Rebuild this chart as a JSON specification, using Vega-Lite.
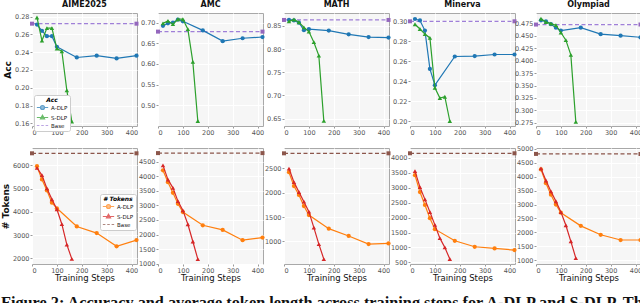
{
"$schema":"https://vega.github.io/schema/vega-lite/v6.json",
"padding":{"left":0,"top":0,"right":0,"bottom":0},
"bounds":"flush",
"columns":5,
"spacing":{"row":22,"column":21},
"resolve":{"scale":{"color":"independent","fill":"independent","shape":"independent"},"legend":{"color":"independent","fill":"independent","shape":"independent"}},
"title":{"text":"Figure 2: Accuracy and average token length across training steps for A-DLP and S-DLP. The","orient":"bottom","anchor":"start","font":"Liberation Serif","fontSize":16.3,"fontWeight":"bold","color":"#111","offset":12},
"datasets":{
"acc":[
{"b":"AIME2025","m":"A-DLP","s":20,"v":0.271},{"b":"AIME2025","m":"A-DLP","s":40,"v":0.264},{"b":"AIME2025","m":"A-DLP","s":60,"v":0.258},{"b":"AIME2025","m":"A-DLP","s":80,"v":0.258},{"b":"AIME2025","m":"A-DLP","s":100,"v":0.246},{"b":"AIME2025","m":"A-DLP","s":180,"v":0.234},{"b":"AIME2025","m":"A-DLP","s":260,"v":0.236},{"b":"AIME2025","m":"A-DLP","s":340,"v":0.233},{"b":"AIME2025","m":"A-DLP","s":420,"v":0.236},
{"b":"AIME2025","m":"S-DLP","s":20,"v":0.279},{"b":"AIME2025","m":"S-DLP","s":40,"v":0.253},{"b":"AIME2025","m":"S-DLP","s":60,"v":0.267},{"b":"AIME2025","m":"S-DLP","s":80,"v":0.267},{"b":"AIME2025","m":"S-DLP","s":100,"v":0.244},{"b":"AIME2025","m":"S-DLP","s":120,"v":0.241},{"b":"AIME2025","m":"S-DLP","s":140,"v":0.197},{"b":"AIME2025","m":"S-DLP","s":160,"v":0.162},
{"b":"AIME2025","m":"Base","s":0,"v":0.272},{"b":"AIME2025","m":"Base","s":420,"v":0.272},
{"b":"AMC","m":"A-DLP","s":20,"v":0.692},{"b":"AMC","m":"A-DLP","s":40,"v":0.698},{"b":"AMC","m":"A-DLP","s":60,"v":0.700},{"b":"AMC","m":"A-DLP","s":80,"v":0.707},{"b":"AMC","m":"A-DLP","s":100,"v":0.703},{"b":"AMC","m":"A-DLP","s":180,"v":0.681},{"b":"AMC","m":"A-DLP","s":260,"v":0.655},{"b":"AMC","m":"A-DLP","s":340,"v":0.662},{"b":"AMC","m":"A-DLP","s":420,"v":0.665},
{"b":"AMC","m":"S-DLP","s":20,"v":0.698},{"b":"AMC","m":"S-DLP","s":40,"v":0.704},{"b":"AMC","m":"S-DLP","s":60,"v":0.696},{"b":"AMC","m":"S-DLP","s":80,"v":0.708},{"b":"AMC","m":"S-DLP","s":100,"v":0.708},{"b":"AMC","m":"S-DLP","s":120,"v":0.684},{"b":"AMC","m":"S-DLP","s":140,"v":0.605},{"b":"AMC","m":"S-DLP","s":160,"v":0.462},
{"b":"AMC","m":"Base","s":0,"v":0.678},{"b":"AMC","m":"Base","s":420,"v":0.678},
{"b":"MATH","m":"A-DLP","s":20,"v":0.863},{"b":"MATH","m":"A-DLP","s":40,"v":0.862},{"b":"MATH","m":"A-DLP","s":60,"v":0.857},{"b":"MATH","m":"A-DLP","s":80,"v":0.841},{"b":"MATH","m":"A-DLP","s":100,"v":0.843},{"b":"MATH","m":"A-DLP","s":180,"v":0.840},{"b":"MATH","m":"A-DLP","s":260,"v":0.832},{"b":"MATH","m":"A-DLP","s":340,"v":0.826},{"b":"MATH","m":"A-DLP","s":420,"v":0.825},
{"b":"MATH","m":"S-DLP","s":20,"v":0.860},{"b":"MATH","m":"S-DLP","s":40,"v":0.864},{"b":"MATH","m":"S-DLP","s":60,"v":0.858},{"b":"MATH","m":"S-DLP","s":80,"v":0.847},{"b":"MATH","m":"S-DLP","s":100,"v":0.838},{"b":"MATH","m":"S-DLP","s":120,"v":0.815},{"b":"MATH","m":"S-DLP","s":140,"v":0.786},{"b":"MATH","m":"S-DLP","s":160,"v":0.645},
{"b":"MATH","m":"Base","s":0,"v":0.863},{"b":"MATH","m":"Base","s":420,"v":0.863},
{"b":"Minerva","m":"A-DLP","s":20,"v":0.302},{"b":"Minerva","m":"A-DLP","s":40,"v":0.3006},{"b":"Minerva","m":"A-DLP","s":60,"v":0.2904},{"b":"Minerva","m":"A-DLP","s":80,"v":0.2521},{"b":"Minerva","m":"A-DLP","s":100,"v":0.2358},{"b":"Minerva","m":"A-DLP","s":180,"v":0.2645},{"b":"Minerva","m":"A-DLP","s":260,"v":0.2649},{"b":"Minerva","m":"A-DLP","s":340,"v":0.2665},{"b":"Minerva","m":"A-DLP","s":420,"v":0.2665},
{"b":"Minerva","m":"S-DLP","s":20,"v":0.2968},{"b":"Minerva","m":"S-DLP","s":40,"v":0.292},{"b":"Minerva","m":"S-DLP","s":60,"v":0.2869},{"b":"Minerva","m":"S-DLP","s":80,"v":0.2831},{"b":"Minerva","m":"S-DLP","s":100,"v":0.2332},{"b":"Minerva","m":"S-DLP","s":120,"v":0.223},{"b":"Minerva","m":"S-DLP","s":140,"v":0.2243},{"b":"Minerva","m":"S-DLP","s":160,"v":0.200},
{"b":"Minerva","m":"Base","s":0,"v":0.2997},{"b":"Minerva","m":"Base","s":420,"v":0.2997},
{"b":"Olympiad","m":"A-DLP","s":20,"v":0.4815},{"b":"Olympiad","m":"A-DLP","s":40,"v":0.4795},{"b":"Olympiad","m":"A-DLP","s":60,"v":0.4737},{"b":"Olympiad","m":"A-DLP","s":80,"v":0.4666},{"b":"Olympiad","m":"A-DLP","s":100,"v":0.4608},{"b":"Olympiad","m":"A-DLP","s":180,"v":0.4666},{"b":"Olympiad","m":"A-DLP","s":260,"v":0.4537},{"b":"Olympiad","m":"A-DLP","s":340,"v":0.4505},{"b":"Olympiad","m":"A-DLP","s":420,"v":0.4473},
{"b":"Olympiad","m":"S-DLP","s":20,"v":0.4847},{"b":"Olympiad","m":"S-DLP","s":40,"v":0.4782},{"b":"Olympiad","m":"S-DLP","s":60,"v":0.475},{"b":"Olympiad","m":"S-DLP","s":80,"v":0.4718},{"b":"Olympiad","m":"S-DLP","s":100,"v":0.457},{"b":"Olympiad","m":"S-DLP","s":120,"v":0.4415},{"b":"Olympiad","m":"S-DLP","s":140,"v":0.4118},{"b":"Olympiad","m":"S-DLP","s":160,"v":0.2769},
{"b":"Olympiad","m":"Base","s":0,"v":0.473},{"b":"Olympiad","m":"Base","s":420,"v":0.473}
],
"tok":[
{"b":"AIME2025","m":"A-DLP","s":20,"v":5957},{"b":"AIME2025","m":"A-DLP","s":40,"v":5388},{"b":"AIME2025","m":"A-DLP","s":60,"v":4919},{"b":"AIME2025","m":"A-DLP","s":80,"v":4393},{"b":"AIME2025","m":"A-DLP","s":100,"v":4151},{"b":"AIME2025","m":"A-DLP","s":180,"v":3370},{"b":"AIME2025","m":"A-DLP","s":260,"v":3085},{"b":"AIME2025","m":"A-DLP","s":340,"v":2516},{"b":"AIME2025","m":"A-DLP","s":420,"v":2786},
{"b":"AIME2025","m":"S-DLP","s":20,"v":5886},{"b":"AIME2025","m":"S-DLP","s":40,"v":5573},{"b":"AIME2025","m":"S-DLP","s":60,"v":5004},{"b":"AIME2025","m":"S-DLP","s":80,"v":4535},{"b":"AIME2025","m":"S-DLP","s":100,"v":4108},{"b":"AIME2025","m":"S-DLP","s":120,"v":3468},{"b":"AIME2025","m":"S-DLP","s":140,"v":2589},{"b":"AIME2025","m":"S-DLP","s":160,"v":1976},
{"b":"AIME2025","m":"Base","s":0,"v":6512},{"b":"AIME2025","m":"Base","s":420,"v":6512},
{"b":"AMC","m":"A-DLP","s":20,"v":4205},{"b":"AMC","m":"A-DLP","s":40,"v":3795},{"b":"AMC","m":"A-DLP","s":60,"v":3432},{"b":"AMC","m":"A-DLP","s":80,"v":3057},{"b":"AMC","m":"A-DLP","s":100,"v":2773},{"b":"AMC","m":"A-DLP","s":180,"v":2318},{"b":"AMC","m":"A-DLP","s":260,"v":2159},{"b":"AMC","m":"A-DLP","s":340,"v":1807},{"b":"AMC","m":"A-DLP","s":420,"v":1898},
{"b":"AMC","m":"S-DLP","s":20,"v":4375},{"b":"AMC","m":"S-DLP","s":40,"v":3886},{"b":"AMC","m":"S-DLP","s":60,"v":3602},{"b":"AMC","m":"S-DLP","s":80,"v":3148},{"b":"AMC","m":"S-DLP","s":100,"v":2830},{"b":"AMC","m":"S-DLP","s":120,"v":2352},{"b":"AMC","m":"S-DLP","s":140,"v":1761},{"b":"AMC","m":"S-DLP","s":160,"v":1159},
{"b":"AMC","m":"Base","s":0,"v":4795},{"b":"AMC","m":"Base","s":420,"v":4795},
{"b":"MATH","m":"A-DLP","s":20,"v":2419},{"b":"MATH","m":"A-DLP","s":40,"v":2134},{"b":"MATH","m":"A-DLP","s":60,"v":1952},{"b":"MATH","m":"A-DLP","s":80,"v":1726},{"b":"MATH","m":"A-DLP","s":100,"v":1541},{"b":"MATH","m":"A-DLP","s":180,"v":1263},{"b":"MATH","m":"A-DLP","s":260,"v":1113},{"b":"MATH","m":"A-DLP","s":340,"v":946},{"b":"MATH","m":"A-DLP","s":420,"v":960},
{"b":"MATH","m":"S-DLP","s":20,"v":2493},{"b":"MATH","m":"S-DLP","s":40,"v":2215},{"b":"MATH","m":"S-DLP","s":60,"v":2012},{"b":"MATH","m":"S-DLP","s":80,"v":1815},{"b":"MATH","m":"S-DLP","s":100,"v":1611},{"b":"MATH","m":"S-DLP","s":120,"v":1285},{"b":"MATH","m":"S-DLP","s":140,"v":946},{"b":"MATH","m":"S-DLP","s":160,"v":640},
{"b":"MATH","m":"Base","s":0,"v":2805},{"b":"MATH","m":"Base","s":420,"v":2805},
{"b":"Minerva","m":"A-DLP","s":20,"v":3422},{"b":"Minerva","m":"A-DLP","s":40,"v":2856},{"b":"Minerva","m":"A-DLP","s":60,"v":2422},{"b":"Minerva","m":"A-DLP","s":80,"v":1978},{"b":"Minerva","m":"A-DLP","s":100,"v":1611},{"b":"Minerva","m":"A-DLP","s":180,"v":1222},{"b":"Minerva","m":"A-DLP","s":260,"v":1022},{"b":"Minerva","m":"A-DLP","s":340,"v":967},{"b":"Minerva","m":"A-DLP","s":420,"v":911},
{"b":"Minerva","m":"S-DLP","s":20,"v":3556},{"b":"Minerva","m":"S-DLP","s":40,"v":3022},{"b":"Minerva","m":"S-DLP","s":60,"v":2611},{"b":"Minerva","m":"S-DLP","s":80,"v":2189},{"b":"Minerva","m":"S-DLP","s":100,"v":1756},{"b":"Minerva","m":"S-DLP","s":120,"v":1311},{"b":"Minerva","m":"S-DLP","s":140,"v":1000},{"b":"Minerva","m":"S-DLP","s":160,"v":611},
{"b":"Minerva","m":"Base","s":0,"v":4156},{"b":"Minerva","m":"Base","s":420,"v":4156},
{"b":"Olympiad","m":"A-DLP","s":20,"v":4264},{"b":"Olympiad","m":"A-DLP","s":40,"v":3766},{"b":"Olympiad","m":"A-DLP","s":60,"v":3352},{"b":"Olympiad","m":"A-DLP","s":80,"v":3000},{"b":"Olympiad","m":"A-DLP","s":100,"v":2704},{"b":"Olympiad","m":"A-DLP","s":180,"v":2231},{"b":"Olympiad","m":"A-DLP","s":260,"v":1911},{"b":"Olympiad","m":"A-DLP","s":340,"v":1722},{"b":"Olympiad","m":"A-DLP","s":420,"v":1722},
{"b":"Olympiad","m":"S-DLP","s":20,"v":4300},{"b":"Olympiad","m":"S-DLP","s":40,"v":3864},{"b":"Olympiad","m":"S-DLP","s":60,"v":3473},{"b":"Olympiad","m":"S-DLP","s":80,"v":3118},{"b":"Olympiad","m":"S-DLP","s":100,"v":2728},{"b":"Olympiad","m":"S-DLP","s":120,"v":2254},{"b":"Olympiad","m":"S-DLP","s":140,"v":1675},{"b":"Olympiad","m":"S-DLP","s":160,"v":1071},
{"b":"Olympiad","m":"Base","s":0,"v":4822},{"b":"Olympiad","m":"Base","s":420,"v":4822}
]
},
"concat":[
{"width":105,"height":113,"title":"AIME2025","data":{"name":"acc"},"transform":[{"filter":"datum.b=='AIME2025'"}],
 "encoding":{"x":{"field":"s","type":"quantitative","scale":{"domain":[0,422],"nice":false},"axis":{"values":[0,100,200,300,400],"title":null}},
  "y":{"field":"v","type":"quantitative","scale":{"domain":[0.157,0.284],"nice":false,"zero":false},"axis":{"values":[0.16,0.18,0.2,0.22,0.24,0.26,0.28],"format":".2f","title":"Acc"}}},
 "layer":[
  {"transform":[{"filter":"datum.m=='Base'"}],"mark":{"type":"line","color":"#9f7fd8","strokeDash":[4,2.5],"strokeWidth":1.2,"point":{"shape":"square","filled":true,"size":16,"color":"#9467bd"}},"encoding":{}},
  {"transform":[{"filter":"datum.m=='A-DLP'"}],"mark":{"type":"line","color":"#1f77b4","strokeWidth":1.2,"point":{"filled":true,"size":18,"color":"#1f77b4"}},"encoding":{}},
  {"transform":[{"filter":"datum.m=='S-DLP'"}],"mark":{"type":"line","color":"#2ca02c","strokeWidth":1.2,"point":{"shape":"triangle-up","filled":true,"size":20,"color":"#2ca02c"}},"encoding":{}},
  {"transform":[{"filter":"false"}],"mark":{"type":"point","filled":false,"strokeWidth":1.2},
   "encoding":{
    "color":{"field":"m","type":"nominal","scale":{"domain":["A-DLP","S-DLP","Base"],"range":["#1f77b4","#2ca02c","#9f7fd8"]},"legend":{"title":"Acc","orient":"none","legendX":2,"legendY":82}},
    "fill":{"field":"m","type":"nominal","scale":{"domain":["A-DLP","S-DLP","Base"],"range":["#1f77b4","#2ca02c","transparent"]},"legend":{"title":"Acc","orient":"none","legendX":2,"legendY":82}},
    "shape":{"field":"m","type":"nominal","scale":{"domain":["A-DLP","S-DLP","Base"],"range":["M-2,0H-0.7M0.7,0H2M0.7,0A0.7,0.7 0 1,1 -0.7,0A0.7,0.7 0 1,1 0.7,0Z","M-2,0H2M0,-0.8L0.72,0.48L-0.72,0.48Z","M-2,0H-1.1M-0.45,0H0.45M1.1,0H2"]},"legend":{"title":"Acc","orient":"none","legendX":2,"legendY":82}}
   }}
 ]},
{"width":105,"height":113,"title":"AMC","data":{"name":"acc"},"transform":[{"filter":"datum.b=='AMC'"}],
 "encoding":{"x":{"field":"s","type":"quantitative","scale":{"domain":[0,422],"nice":false},"axis":{"values":[0,100,200,300,400],"title":null}},
  "y":{"field":"v","type":"quantitative","scale":{"domain":[0.45,0.723],"nice":false,"zero":false},"axis":{"values":[0.5,0.55,0.6,0.65,0.7],"format":".2f","title":null}}},
 "layer":[
  {"transform":[{"filter":"datum.m=='Base'"}],"mark":{"type":"line","color":"#9f7fd8","strokeDash":[4,2.5],"strokeWidth":1.2,"point":{"shape":"square","filled":true,"size":16,"color":"#9467bd"}},"encoding":{}},
  {"transform":[{"filter":"datum.m=='A-DLP'"}],"mark":{"type":"line","color":"#1f77b4","strokeWidth":1.2,"point":{"filled":true,"size":18,"color":"#1f77b4"}},"encoding":{}},
  {"transform":[{"filter":"datum.m=='S-DLP'"}],"mark":{"type":"line","color":"#2ca02c","strokeWidth":1.2,"point":{"shape":"triangle-up","filled":true,"size":20,"color":"#2ca02c"}},"encoding":{}}
 ]},
{"width":105,"height":113,"title":"MATH","data":{"name":"acc"},"transform":[{"filter":"datum.b=='MATH'"}],
 "encoding":{"x":{"field":"s","type":"quantitative","scale":{"domain":[0,422],"nice":false},"axis":{"values":[0,100,200,300,400],"title":null}},
  "y":{"field":"v","type":"quantitative","scale":{"domain":[0.634,0.878],"nice":false,"zero":false},"axis":{"values":[0.65,0.7,0.75,0.8,0.85],"format":".2f","title":null}}},
 "layer":[
  {"transform":[{"filter":"datum.m=='Base'"}],"mark":{"type":"line","color":"#9f7fd8","strokeDash":[4,2.5],"strokeWidth":1.2,"point":{"shape":"square","filled":true,"size":16,"color":"#9467bd"}},"encoding":{}},
  {"transform":[{"filter":"datum.m=='A-DLP'"}],"mark":{"type":"line","color":"#1f77b4","strokeWidth":1.2,"point":{"filled":true,"size":18,"color":"#1f77b4"}},"encoding":{}},
  {"transform":[{"filter":"datum.m=='S-DLP'"}],"mark":{"type":"line","color":"#2ca02c","strokeWidth":1.2,"point":{"shape":"triangle-up","filled":true,"size":20,"color":"#2ca02c"}},"encoding":{}}
 ]},
{"width":105,"height":113,"title":"Minerva","data":{"name":"acc"},"transform":[{"filter":"datum.b=='Minerva'"}],
 "encoding":{"x":{"field":"s","type":"quantitative","scale":{"domain":[0,422],"nice":false},"axis":{"values":[0,100,200,300,400],"title":null}},
  "y":{"field":"v","type":"quantitative","scale":{"domain":[0.195,0.308],"nice":false,"zero":false},"axis":{"values":[0.2,0.22,0.24,0.26,0.28,0.3],"format":".2f","title":null}}},
 "layer":[
  {"transform":[{"filter":"datum.m=='Base'"}],"mark":{"type":"line","color":"#9f7fd8","strokeDash":[4,2.5],"strokeWidth":1.2,"point":{"shape":"square","filled":true,"size":16,"color":"#9467bd"}},"encoding":{}},
  {"transform":[{"filter":"datum.m=='A-DLP'"}],"mark":{"type":"line","color":"#1f77b4","strokeWidth":1.2,"point":{"filled":true,"size":18,"color":"#1f77b4"}},"encoding":{}},
  {"transform":[{"filter":"datum.m=='S-DLP'"}],"mark":{"type":"line","color":"#2ca02c","strokeWidth":1.2,"point":{"shape":"triangle-up","filled":true,"size":20,"color":"#2ca02c"}},"encoding":{}}
 ]},
{"width":105,"height":113,"title":"Olympiad","data":{"name":"acc"},"transform":[{"filter":"datum.b=='Olympiad'"}],
 "encoding":{"x":{"field":"s","type":"quantitative","scale":{"domain":[0,422],"nice":false},"axis":{"values":[0,100,200,300,400],"title":null}},
  "y":{"field":"v","type":"quantitative","scale":{"domain":[0.2685,0.4963],"nice":false,"zero":false},"axis":{"values":[0.275,0.3,0.325,0.35,0.375,0.4,0.425,0.45,0.475],"format":".3f","title":null}}},
 "layer":[
  {"transform":[{"filter":"datum.m=='Base'"}],"mark":{"type":"line","color":"#9f7fd8","strokeDash":[4,2.5],"strokeWidth":1.2,"point":{"shape":"square","filled":true,"size":16,"color":"#9467bd"}},"encoding":{}},
  {"transform":[{"filter":"datum.m=='A-DLP'"}],"mark":{"type":"line","color":"#1f77b4","strokeWidth":1.2,"point":{"filled":true,"size":18,"color":"#1f77b4"}},"encoding":{}},
  {"transform":[{"filter":"datum.m=='S-DLP'"}],"mark":{"type":"line","color":"#2ca02c","strokeWidth":1.2,"point":{"shape":"triangle-up","filled":true,"size":20,"color":"#2ca02c"}},"encoding":{}}
 ]},
{"width":105,"height":116,"data":{"name":"tok"},"transform":[{"filter":"datum.b=='AIME2025'"}],
 "encoding":{"x":{"field":"s","type":"quantitative","scale":{"domain":[0,422],"nice":false},"axis":{"values":[0,100,200,300,400],"title":"Training Steps"}},
  "y":{"field":"v","type":"quantitative","scale":{"domain":[1758,6740],"nice":false,"zero":false},"axis":{"values":[2000,3000,4000,5000,6000],"format":"d","title":"# Tokens"}}},
 "layer":[
  {"transform":[{"filter":"datum.m=='Base'"}],"mark":{"type":"line","color":"#8c564b","strokeDash":[4,2.5],"strokeWidth":1.2,"point":{"shape":"square","filled":true,"size":16,"color":"#8c564b"}},"encoding":{}},
  {"transform":[{"filter":"datum.m=='A-DLP'"}],"mark":{"type":"line","color":"#ff7f0e","strokeWidth":1.2,"point":{"filled":true,"size":18,"color":"#ff7f0e"}},"encoding":{}},
  {"transform":[{"filter":"datum.m=='S-DLP'"}],"mark":{"type":"line","color":"#d62728","strokeWidth":1.2,"point":{"shape":"triangle-up","filled":true,"size":20,"color":"#d62728"}},"encoding":{}},
  {"transform":[{"filter":"false"}],"mark":{"type":"point","filled":false,"strokeWidth":1.2},
   "encoding":{
    "color":{"field":"m","type":"nominal","scale":{"domain":["A-DLP","S-DLP","Base"],"range":["#ff7f0e","#d62728","#8c564b"]},"legend":{"title":"# Tokens","orient":"none","legendX":68,"legendY":46}},
    "fill":{"field":"m","type":"nominal","scale":{"domain":["A-DLP","S-DLP","Base"],"range":["#ff7f0e","#d62728","transparent"]},"legend":{"title":"# Tokens","orient":"none","legendX":68,"legendY":46}},
    "shape":{"field":"m","type":"nominal","scale":{"domain":["A-DLP","S-DLP","Base"],"range":["M-2,0H-0.7M0.7,0H2M0.7,0A0.7,0.7 0 1,1 -0.7,0A0.7,0.7 0 1,1 0.7,0Z","M-2,0H2M0,-0.8L0.72,0.48L-0.72,0.48Z","M-2,0H-1.1M-0.45,0H0.45M1.1,0H2"]},"legend":{"title":"# Tokens","orient":"none","legendX":68,"legendY":46}}
   }}
 ]},
{"width":105,"height":116,"data":{"name":"tok"},"transform":[{"filter":"datum.b=='AMC'"}],
 "encoding":{"x":{"field":"s","type":"quantitative","scale":{"domain":[0,422],"nice":false},"axis":{"values":[0,100,200,300,400],"title":"Training Steps"}},
  "y":{"field":"v","type":"quantitative","scale":{"domain":[990,4970],"nice":false,"zero":false},"axis":{"values":[1000,1500,2000,2500,3000,3500,4000,4500],"format":"d","title":null}}},
 "layer":[
  {"transform":[{"filter":"datum.m=='Base'"}],"mark":{"type":"line","color":"#8c564b","strokeDash":[4,2.5],"strokeWidth":1.2,"point":{"shape":"square","filled":true,"size":16,"color":"#8c564b"}},"encoding":{}},
  {"transform":[{"filter":"datum.m=='A-DLP'"}],"mark":{"type":"line","color":"#ff7f0e","strokeWidth":1.2,"point":{"filled":true,"size":18,"color":"#ff7f0e"}},"encoding":{}},
  {"transform":[{"filter":"datum.m=='S-DLP'"}],"mark":{"type":"line","color":"#d62728","strokeWidth":1.2,"point":{"shape":"triangle-up","filled":true,"size":20,"color":"#d62728"}},"encoding":{}}
 ]},
{"width":105,"height":116,"data":{"name":"tok"},"transform":[{"filter":"datum.b=='MATH'"}],
 "encoding":{"x":{"field":"s","type":"quantitative","scale":{"domain":[0,422],"nice":false},"axis":{"values":[0,100,200,300,400],"title":"Training Steps"}},
  "y":{"field":"v","type":"quantitative","scale":{"domain":[539,2914],"nice":false,"zero":false},"axis":{"values":[1000,1500,2000,2500],"format":"d","title":null}}},
 "layer":[
  {"transform":[{"filter":"datum.m=='Base'"}],"mark":{"type":"line","color":"#8c564b","strokeDash":[4,2.5],"strokeWidth":1.2,"point":{"shape":"square","filled":true,"size":16,"color":"#8c564b"}},"encoding":{}},
  {"transform":[{"filter":"datum.m=='A-DLP'"}],"mark":{"type":"line","color":"#ff7f0e","strokeWidth":1.2,"point":{"filled":true,"size":18,"color":"#ff7f0e"}},"encoding":{}},
  {"transform":[{"filter":"datum.m=='S-DLP'"}],"mark":{"type":"line","color":"#d62728","strokeWidth":1.2,"point":{"shape":"triangle-up","filled":true,"size":20,"color":"#d62728"}},"encoding":{}}
 ]},
{"width":105,"height":116,"data":{"name":"tok"},"transform":[{"filter":"datum.b=='Minerva'"}],
 "encoding":{"x":{"field":"s","type":"quantitative","scale":{"domain":[0,422],"nice":false},"axis":{"values":[0,100,200,300,400],"title":"Training Steps"}},
  "y":{"field":"v","type":"quantitative","scale":{"domain":[444,4333],"nice":false,"zero":false},"axis":{"values":[500,1000,1500,2000,2500,3000,3500,4000],"format":"d","title":null}}},
 "layer":[
  {"transform":[{"filter":"datum.m=='Base'"}],"mark":{"type":"line","color":"#8c564b","strokeDash":[4,2.5],"strokeWidth":1.2,"point":{"shape":"square","filled":true,"size":16,"color":"#8c564b"}},"encoding":{}},
  {"transform":[{"filter":"datum.m=='A-DLP'"}],"mark":{"type":"line","color":"#ff7f0e","strokeWidth":1.2,"point":{"filled":true,"size":18,"color":"#ff7f0e"}},"encoding":{}},
  {"transform":[{"filter":"datum.m=='S-DLP'"}],"mark":{"type":"line","color":"#d62728","strokeWidth":1.2,"point":{"shape":"triangle-up","filled":true,"size":20,"color":"#d62728"}},"encoding":{}}
 ]},
{"width":105,"height":116,"data":{"name":"tok"},"transform":[{"filter":"datum.b=='Olympiad'"}],
 "encoding":{"x":{"field":"s","type":"quantitative","scale":{"domain":[0,422],"nice":false},"axis":{"values":[0,100,200,300,400],"title":"Training Steps"}},
  "y":{"field":"v","type":"quantitative","scale":{"domain":[858,5035],"nice":false,"zero":false},"axis":{"values":[1000,1500,2000,2500,3000,3500,4000,4500,5000],"format":"d","title":null}}},
 "layer":[
  {"transform":[{"filter":"datum.m=='Base'"}],"mark":{"type":"line","color":"#8c564b","strokeDash":[4,2.5],"strokeWidth":1.2,"point":{"shape":"square","filled":true,"size":16,"color":"#8c564b"}},"encoding":{}},
  {"transform":[{"filter":"datum.m=='A-DLP'"}],"mark":{"type":"line","color":"#ff7f0e","strokeWidth":1.2,"point":{"filled":true,"size":18,"color":"#ff7f0e"}},"encoding":{}},
  {"transform":[{"filter":"datum.m=='S-DLP'"}],"mark":{"type":"line","color":"#d62728","strokeWidth":1.2,"point":{"shape":"triangle-up","filled":true,"size":20,"color":"#d62728"}},"encoding":{}}
 ]}
],
"config":{
 "view":{"fill":"#f6f6f6","stroke":"#a8a8a8","strokeWidth":1},
 "axis":{"labelFont":"DejaVu Sans","labelFontSize":6.5,"labelColor":"#555","tickColor":"#999","tickSize":2,"domain":false,"gridColor":"#ffffff","gridWidth":1,"labelPadding":1,"titleFont":"DejaVu Sans","titleFontSize":9,"titleColor":"#111"},
 "axisY":{"titleFontWeight":"bold","titlePadding":2},
 "axisX":{"titleFontWeight":"normal","titlePadding":0,"titleFontSize":8.5},
 "title":{"font":"DejaVu Sans","fontSize":8,"fontWeight":"bold","offset":0,"color":"#111"},
 "legend":{"fillColor":"#ffffff","strokeColor":"#cccccc","cornerRadius":2,"padding":2,"symbolSize":32,"symbolOffset":3,"symbolStrokeWidth":1.2,"titleFont":"DejaVu Sans","titleFontSize":6,"titleFontStyle":"italic","titleFontWeight":"bold","titleAnchor":"middle","titlePadding":1,"labelFont":"DejaVu Sans","labelFontSize":5.5,"labelColor":"#111","rowPadding":0,"labelOffset":5}
}
}
